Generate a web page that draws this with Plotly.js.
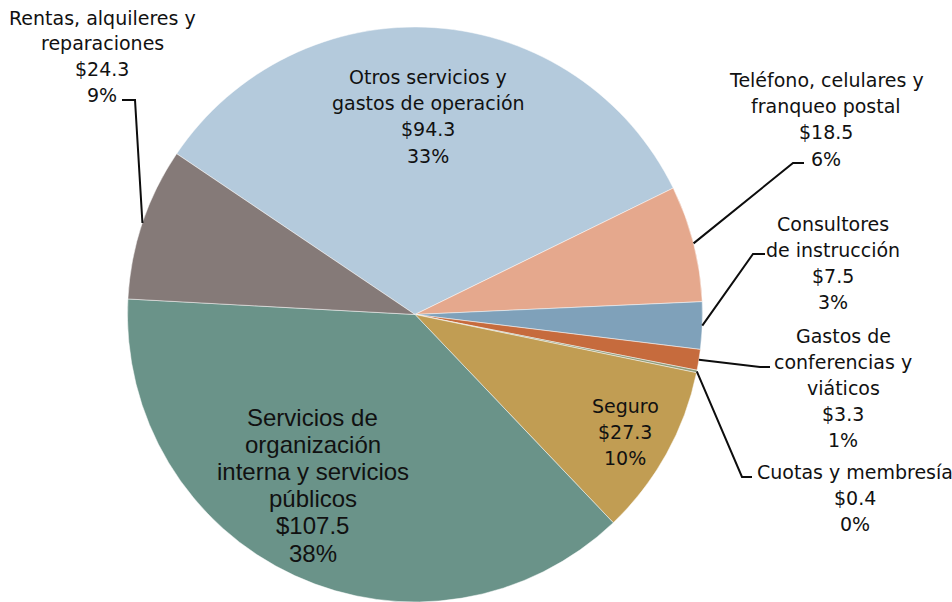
<!DOCTYPE html>
<html>
<head>
<meta charset="utf-8">
<script src="https://cdn.plot.ly/plotly-3.0.1.min.js"></script>
<style>html,body{margin:0;padding:0;background:#fff;}#chart{width:952px;height:602px;}</style>
</head>
<body>
<div id="chart"></div>
<script>
// ---- data ----
const categories = [
  'Otros servicios y gastos de operación',
  'Teléfono, celulares y franqueo postal',
  'Consultores de instrucción',
  'Gastos de conferencias y viáticos',
  'Cuotas y membresía',
  'Seguro',
  'Servicios de organización interna y servicios públicos',
  'Rentas, alquileres y reparaciones'
];
const values = [94.3, 18.5, 7.5, 3.3, 0.4, 27.3, 107.5, 24.3];
const percentLabels = ['33%', '6%', '3%', '1%', '0%', '10%', '38%', '9%'];
const categoryLines = [
  ['Otros servicios y', 'gastos de operación'],
  ['Teléfono, celulares y', 'franqueo postal'],
  ['Consultores', 'de instrucción'],
  ['Gastos de', 'conferencias y', 'viáticos'],
  ['Cuotas y membresía'],
  ['Seguro'],
  ['Servicios de', 'organización', 'interna y servicios', 'públicos'],
  ['Rentas, alquileres y', 'reparaciones']
];

// ---- styling / layout ----
const W = 952, H = 602;
const colors = ['#B4CADC', '#E5A88D', '#7FA1BA', '#C66B3D', '#8E9C7B', '#C19D53', '#6A9389', '#857A78'];
const rotation = -56;
const domX = [127.5 / W, 702.5 / W];
const domY = [0, 575 / H];
const CG = 'DejaVu Sans, Verdana, sans-serif';
const AR = 'Liberation Sans, Arial, sans-serif';
// label block placement: center x, first line y, line step, font size, family (pixels)
const labelStyle = [
  {x: 428, y: 77, dy: 26.2, size: 19, family: CG},
  {x: 826, y: 80, dy: 26.2, size: 19, family: CG},
  {x: 833, y: 224, dy: 26, size: 19, family: CG},
  {x: 843, y: 335.5, dy: 26.1, size: 19, family: CG},
  {x: 855, y: 472.5, dy: 25.5, size: 19, family: CG},
  {x: 625, y: 405.5, dy: 26, size: 19, family: CG},
  {x: 312.5, y: 417, dy: 27.2, size: 24, family: AR},
  {x: 102, y: 17.5, dy: 25.8, size: 19, family: CG}
];
// leader line elbows (label side), null = no leader line
const leaderElbows = [
  null,
  [[804, 163], [793, 163]],
  [[765, 254], [753, 254]],
  [[770, 367], [760, 367]],
  [[752, 477], [742, 477]],
  null,
  null,
  [[122, 100], [135, 100]]
];

const px = x => x / W;
const py = y => 1 - y / H;

// pie geometry derived from the domain, as Plotly computes it
const cx = W * (domX[0] + domX[1]) / 2;
const cy = H * (1 - (domY[0] + domY[1]) / 2);
const R = Math.min(W * (domX[1] - domX[0]), H * (domY[1] - domY[0])) / 2;
const total = values.reduce((a, b) => a + b, 0);

const annotations = [];
const shapes = [];
let cum = 0;
values.forEach((v, i) => {
  const mid = (rotation + (cum + v / 2) / total * 360) * Math.PI / 180;
  cum += v;
  const st = labelStyle[i];
  const lines = categoryLines[i].concat(['$' + v.toFixed(1), percentLabels[i]]);
  lines.forEach((t, k) => {
    annotations.push({
      xref: 'paper', yref: 'paper',
      x: px(st.x), y: py(st.y + k * st.dy),
      xanchor: 'center', yanchor: 'middle',
      text: t, showarrow: false,
      font: {family: st.family, size: st.size, color: '#111111'}
    });
  });
  const el = leaderElbows[i];
  if (el) {
    const ex = cx + R * Math.sin(mid);
    const ey = cy - R * Math.cos(mid);
    const pts = el.concat([[ex, ey]]);
    const path = pts.map((p, k) => (k ? 'L ' : 'M ') + px(p[0]).toFixed(5) + ' ' + py(p[1]).toFixed(5)).join(' ');
    shapes.push({type: 'path', xref: 'paper', yref: 'paper', path: path,
      line: {color: '#0d0d0d', width: 2}});
  }
});

const trace = {
  type: 'pie',
  labels: categories,
  values: values,
  sort: false,
  direction: 'clockwise',
  rotation: rotation,
  textinfo: 'none',
  hoverinfo: 'label+value+percent',
  marker: {colors: colors, line: {color: 'rgba(255,255,255,0.6)', width: 0.8}},
  domain: {x: domX, y: domY},
  showlegend: false
};

const layout = {
  width: W, height: H,
  margin: {l: 0, r: 0, t: 0, b: 0},
  paper_bgcolor: '#ffffff',
  showlegend: false,
  annotations: annotations,
  shapes: shapes
};

Plotly.newPlot('chart', [trace], layout, {displayModeBar: false, staticPlot: true});
</script>
</body>
</html>
